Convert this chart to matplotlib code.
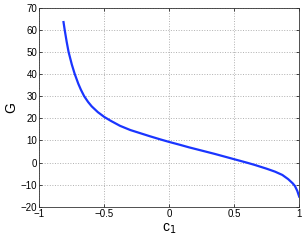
import numpy as np
import matplotlib
matplotlib.use("Agg")
from matplotlib import pyplot as plt

# values
c1 = [-0.814, -0.805, -0.79, -0.775, -0.75, -0.728, -0.70, -0.68, -0.655, -0.625,
      -0.597, -0.55, -0.50, -0.45, -0.379, -0.30, -0.225, -0.15, -0.071, 0.0,
      0.083, 0.15, 0.25, 0.35, 0.50, 0.60, 0.659, 0.75, 0.813, 0.87,
      0.915, 0.95, 0.967, 0.985, 1.0]
G = [63.5, 60.0, 54.7, 50.0, 44.3, 40.1, 35.6, 32.9, 30.0, 27.4,
     25.4, 22.8, 20.6, 18.85, 16.6, 14.7, 13.3, 11.9, 10.5, 9.3,
     8.0, 6.9, 5.4, 3.9, 1.5, -0.1, -1.1, -2.8, -4.1, -5.6,
     -7.5, -9.4, -10.6, -12.8, -15.4]

xticks = [-1, -0.5, 0, 0.5, 1]
xticklabels = ["\u22121", "\u22120.5", "0", "0.5", "1"]
yticks = list(range(-20, 80, 10))

plt.rcParams['font.family'] = ['Liberation Sans', 'DejaVu Sans']

fig = plt.figure(figsize=(3.05, 2.41), dpi=100)
ax = fig.add_axes([0.129, 0.142, 0.852, 0.826])

ax.plot(c1, G, color='#1a35ff', linewidth=1.6, solid_joinstyle='round')

ax.set_xlim(-1, 1)
ax.set_ylim(-20, 70)
ax.set_xticks(xticks)
ax.set_xticklabels(xticklabels)
ax.set_yticks(yticks)
ax.set_yticklabels([str(v).replace('-', '\u2212') for v in yticks])
ax.tick_params(direction='in', top=True, right=True, labelsize=7, length=2.5,
               width=0.5, pad=1.5)
ax.grid(True, linestyle=':', color='#b0b0b0', linewidth=0.7)
for s in ax.spines.values():
    s.set_linewidth(0.6)
    s.set_color('#333333')

ax.set_xlabel('c$_1$', fontsize=10, labelpad=2)
ax.set_ylabel('G', fontsize=10, labelpad=2)

fig.savefig('out.png', dpi=100)
